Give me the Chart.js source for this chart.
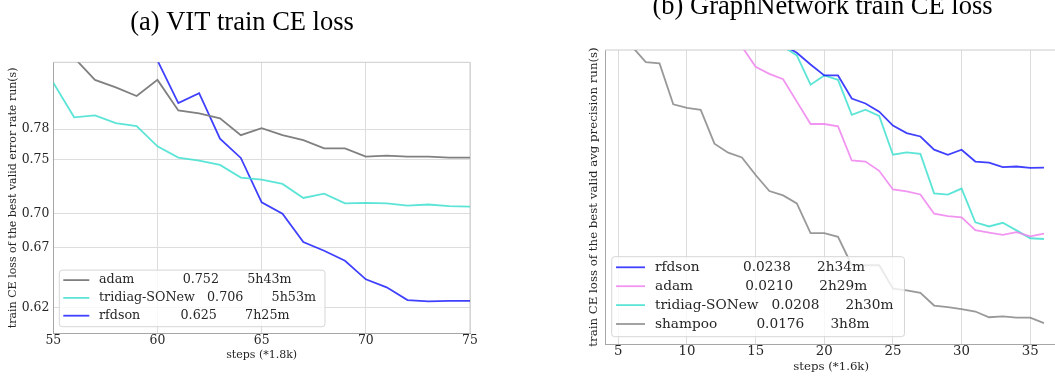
<!DOCTYPE html>
<html>
<head>
<meta charset="utf-8">
<script src="https://cdn.jsdelivr.net/npm/chart.js@4.4.1/dist/chart.umd.min.js"></script>
<style>
  html, body { margin: 0; padding: 0; background: #fff; overflow: hidden; }
  body { width: 1055px; height: 377px; position: relative; }
  canvas { position: absolute; top: 0; }
  #vitChart { left: 0; }
  #graphChart { left: 580px; }
</style>
</head>
<body>
<canvas id="vitChart" width="484" height="377"></canvas>
<canvas id="graphChart" width="485" height="377"></canvas>
<script>
// ---- (a) VIT data ----
const vitSteps = [55, 56, 57, 58, 59, 60, 61, 62, 63, 64, 65, 66, 67, 68, 69, 70, 71, 72, 73, 74, 75];
const vitAdam = [0.88, 0.855, 0.831, 0.823, 0.814, 0.831, 0.799, 0.796, 0.791, 0.774, 0.781, 0.774, 0.769, 0.761, 0.761, 0.753, 0.754, 0.753, 0.753, 0.752, 0.752];
const vitTridiag = [0.828, 0.792, 0.794, 0.786, 0.783, 0.763, 0.752, 0.749, 0.745, 0.733, 0.731, 0.727, 0.714, 0.718, 0.709, 0.7095, 0.709, 0.707, 0.708, 0.7065, 0.706];
const vitRfdson = [null, null, null, null, null, 0.852, 0.8065, 0.817, 0.7706, 0.7517, 0.710, 0.6996, 0.6747, 0.6672, 0.6586, 0.6431, 0.6365, 0.6262, 0.6251, 0.6256, 0.6255];
const vitLegend = ['adam            0.752       5h43m', 'tridiag-SONew   0.706       5h53m', 'rfdson          0.625       7h25m'];
const vitXTicks = [55, 60, 65, 70, 75];
const vitYTicks = [0.62, 0.67, 0.70, 0.75, 0.78];

// ---- (b) GraphNetwork data ----
const graphSteps = [5, 6, 7, 8, 9, 10, 11, 12, 13, 14, 15, 16, 17, 18, 19, 20, 21, 22, 23, 24, 25, 26, 27, 28, 29, 30, 31, 32, 33, 34, 35, 36];
const graphRfdson = [null, null, null, null, null, null, null, null, null, null, null, null, 0.0302, 0.02974, 0.02907, 0.02846, 0.02846, 0.02721, 0.02695, 0.02653, 0.02582, 0.02545, 0.02528, 0.02464, 0.0244, 0.02464, 0.02408, 0.02403, 0.02382, 0.02385, 0.02379, 0.0238];
const graphAdam = [null, null, null, null, null, null, null, null, null, 0.0301, 0.02894, 0.02855, 0.02825, 0.02705, 0.0259, 0.0259, 0.02578, 0.02413, 0.02408, 0.02365, 0.02281, 0.02273, 0.02259, 0.02176, 0.02166, 0.02161, 0.02108, 0.02098, 0.02089, 0.021, 0.02083, 0.02094];
const graphTridiag = [null, null, null, null, null, null, null, null, null, null, null, null, 0.0301, 0.02959, 0.02795, 0.02846, 0.02822, 0.02637, 0.02663, 0.02631, 0.0244, 0.02451, 0.02444, 0.02264, 0.02258, 0.02285, 0.0214, 0.02123, 0.02138, 0.02107, 0.02075, 0.02072];
const graphShampoo = [null, 0.0301, 0.0292, 0.02913, 0.02691, 0.02672, 0.02662, 0.02493, 0.0245, 0.02427, 0.02346, 0.02274, 0.02255, 0.0222, 0.02096, 0.02096, 0.02081, 0.01969, 0.01969, 0.01969, 0.01882, 0.01875, 0.01866, 0.01821, 0.01815, 0.01808, 0.018, 0.0178, 0.01783, 0.01779, 0.01779, 0.0176];
const graphLegend = ['rfdson          0.0238      2h34m', 'adam            0.0210      2h29m', 'tridiag-SONew   0.0208      2h30m', 'shampoo         0.0176      3h8m'];
const graphXTicks = [5, 10, 15, 20, 25, 30, 35];

const SERIF = 'DejaVu Serif';
const TEXT = '#262626';
const GRID = '#dddddd';
const SPINE = '#a6a6a6';

function points(steps, vals) {
  return steps.map((s, i) => ({ x: s, y: vals[i] }));
}

function line(label, steps, vals, color) {
  return {
    label: label,
    data: points(steps, vals),
    borderColor: color,
    borderWidth: 1.8,
    pointRadius: 0,
    tension: 0,
    fill: false,
    spanGaps: false
  };
}

// top / right frame of the axes box
const frameLines = {
  id: 'frameLines',
  beforeDatasetsDraw(chart, args, opts) {
    const { ctx, chartArea: a } = chart;
    ctx.save();
    ctx.strokeStyle = opts.color;
    ctx.lineWidth = 1;
    ctx.beginPath();
    ctx.moveTo(a.left, a.top);
    ctx.lineTo(a.right, a.top);
    ctx.moveTo(a.right, a.top);
    ctx.lineTo(a.right, a.bottom);
    ctx.stroke();
    ctx.restore();
  }
};

// matplotlib style legend box in the lower left corner
const boxLegend = {
  id: 'boxLegend',
  afterDatasetsDraw(chart, args, o) {
    const { ctx, chartArea: a } = chart;
    const sets = chart.data.datasets;
    ctx.save();
    ctx.font = o.fontSize + 'px "' + SERIF + '"';
    const textW = Math.max(...sets.map(d => ctx.measureText(d.label).width));
    const w = o.padLeft + o.lineLen + o.lineGap + textW + o.padRight;
    const h = o.padTop + o.padBottom + (sets.length - 1) * o.rowH;
    const x = a.left + o.inset;
    const y = a.bottom - o.insetBottom - h;
    ctx.beginPath();
    ctx.roundRect(x, y, w, h, 3);
    ctx.fillStyle = 'rgba(255,255,255,0.8)';
    ctx.fill();
    ctx.strokeStyle = 'rgba(210,210,210,0.9)';
    ctx.lineWidth = 1;
    ctx.stroke();
    sets.forEach((d, i) => {
      const cy = y + o.padTop + i * o.rowH;
      ctx.strokeStyle = d.borderColor;
      ctx.lineWidth = d.borderWidth;
      ctx.beginPath();
      ctx.moveTo(x + o.padLeft, cy);
      ctx.lineTo(x + o.padLeft + o.lineLen, cy);
      ctx.stroke();
      ctx.fillStyle = TEXT;
      ctx.textBaseline = 'middle';
      ctx.textAlign = 'left';
      ctx.fillText(d.label, x + o.padLeft + o.lineLen + o.lineGap, cy);
    });
    ctx.restore();
  }
};

// (a) VIT train CE loss
new Chart(document.getElementById('vitChart'), {
  type: 'line',
  data: {
    datasets: [
      line(vitLegend[0], vitSteps, vitAdam, '#808080'),
      line(vitLegend[1], vitSteps, vitTridiag, 'rgba(64,224,208,0.85)'),
      line(vitLegend[2], vitSteps, vitRfdson, 'rgba(0,0,255,0.75)')
    ]
  },
  options: {
    responsive: false,
    devicePixelRatio: 1,
    animation: false,
    events: [],
    layout: { padding: 0 },
    plugins: {
      legend: { display: false },
      tooltip: { enabled: false },
      title: {
        display: true,
        text: '(a) VIT train CE loss',
        color: '#000',
        font: { family: 'Liberation Serif', size: 26.5, weight: 'normal' },
        padding: { top: 7, bottom: 23.5 }
      },
      frameLines: { color: '#cccccc' },
      boxLegend: { fontSize: 12.7, inset: 6, insetBottom: 6.6, padTop: 10, padBottom: 11, rowH: 17.8, padLeft: 4, lineLen: 26, lineGap: 9.7, padRight: 9 }
    },
    scales: {
      x: {
        type: 'linear', min: 55, max: 75, bounds: 'data',
        afterBuildTicks: s => { s.ticks = vitXTicks.map(v => ({ value: v })); },
        afterFit: s => { s.height = 43.7; s.paddingLeft = 0; s.paddingRight = 14; },
        grid: { color: GRID, drawTicks: false },
        border: { color: SPINE },
        ticks: { font: { family: SERIF, size: 12.4 }, color: TEXT, padding: 0.5, maxRotation: 0, autoSkip: false, callback: v => String(v) },
        title: { display: true, text: 'steps (*1.8k)', color: TEXT, font: { family: SERIF, size: 11 }, padding: { top: 0, bottom: 15.4 } }
      },
      y: {
        type: 'logarithmic', min: 0.6, max: 0.85, bounds: 'data',
        afterBuildTicks: s => { s.ticks = vitYTicks.map(v => ({ value: v })); },
        afterFit: s => { s.width = 53.3; },
        grid: { color: GRID, drawTicks: false },
        border: { color: SPINE },
        ticks: { font: { family: SERIF, size: 12.4 }, color: TEXT, padding: 4, autoSkip: false, callback: v => Number(v).toFixed(2) },
        title: { display: true, text: 'train CE loss of the best valid error rate run(s)', color: TEXT, font: { family: SERIF, size: 11 }, padding: { top: 6.4, bottom: 0 } }
      }
    }
  },
  plugins: [frameLines, boxLegend]
});

// (b) GraphNetwork train CE loss
new Chart(document.getElementById('graphChart'), {
  type: 'line',
  data: {
    datasets: [
      line(graphLegend[0], graphSteps, graphRfdson, 'rgba(0,0,255,0.75)'),
      line(graphLegend[1], graphSteps, graphAdam, 'rgba(238,130,238,0.85)'),
      line(graphLegend[2], graphSteps, graphTridiag, 'rgba(64,224,208,0.85)'),
      line(graphLegend[3], graphSteps, graphShampoo, 'rgba(128,128,128,0.8)')
    ]
  },
  options: {
    responsive: false,
    devicePixelRatio: 1,
    animation: false,
    events: [],
    layout: { padding: 0 },
    plugins: {
      legend: { display: false },
      tooltip: { enabled: false },
      title: {
        display: true,
        text: '(b) GraphNetwork train CE loss',
        color: '#000',
        font: { family: 'Liberation Serif', size: 26.5, weight: 'normal' },
        padding: { top: -8.8, bottom: 27 }
      },
      frameLines: { color: '#cccccc' },
      boxLegend: { fontSize: 13.7, inset: 6.4, insetBottom: 7.3, padTop: 10.6, padBottom: 12.7, rowH: 18.9, padLeft: 4.3, lineLen: 29, lineGap: 10, padRight: 11 }
    },
    scales: {
      x: {
        type: 'linear', min: 4.05, max: 36.95, bounds: 'data',
        afterBuildTicks: s => { s.ticks = graphXTicks.map(v => ({ value: v })); },
        afterFit: s => { s.height = 33; s.paddingLeft = 0; s.paddingRight = 8; },
        grid: { color: GRID, drawTicks: false },
        border: { color: SPINE },
        ticks: { font: { family: SERIF, size: 13.3 }, color: TEXT, padding: 0, maxRotation: 0, autoSkip: false, callback: v => String(v) },
        title: { display: true, text: 'steps (*1.6k)', color: TEXT, font: { family: SERIF, size: 11.75 }, padding: { top: 0, bottom: 2.95 } }
      },
      y: {
        type: 'logarithmic', min: 0.0169, max: 0.0299, bounds: 'data',
        afterFit: s => { s.width = 25.3; },
        grid: { display: false },
        border: { display: true, color: SPINE },
        ticks: { display: false },
        title: { display: true, text: 'train CE loss of the best valid avg precision run(s)', color: TEXT, font: { family: SERIF, size: 11.75 }, padding: { top: 6.95, bottom: 0 } }
      }
    }
  },
  plugins: [frameLines, boxLegend]
});
</script>
</body>
</html>
